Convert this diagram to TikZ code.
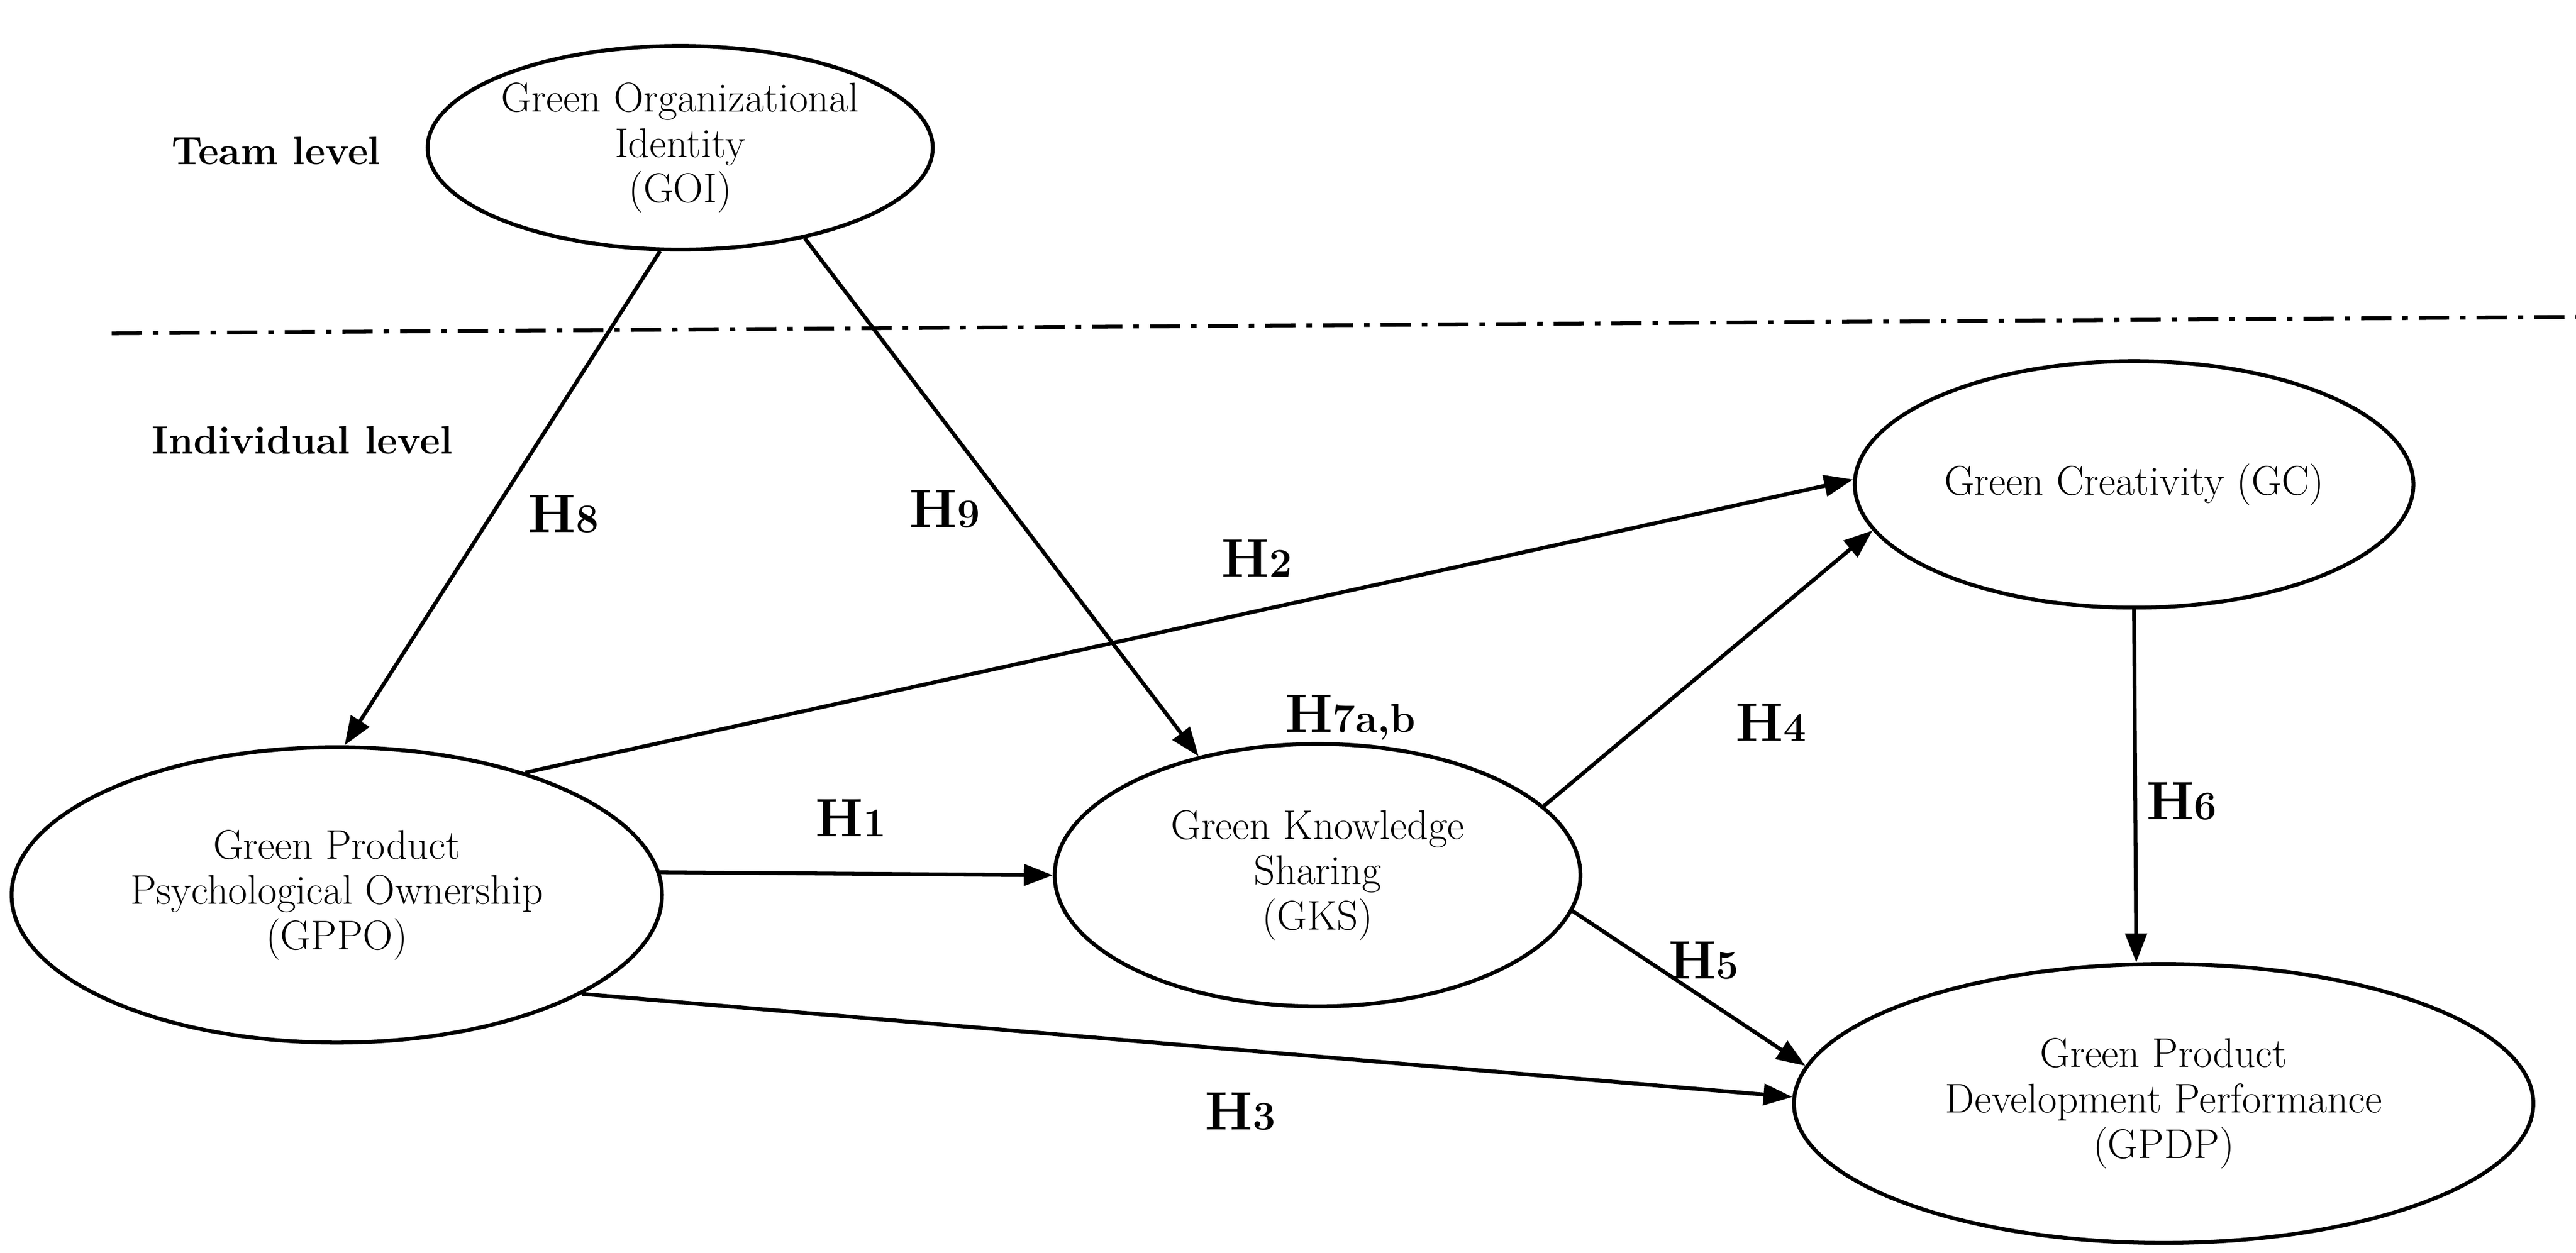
\documentclass[tikz,border=0pt]{standalone}
\usetikzlibrary{shapes.geometric,arrows.meta}
\begin{document}
\begin{tikzpicture}[x=0.0299cm,y=-0.0299cm,
 el/.style={ellipse,draw,line width=2pt,inner sep=0pt,align=center,font=\fontsize{21.5}{23.5}\selectfont},
 ar/.style={line width=2pt,-{Triangle[length=15pt,width=11pt]}},
 hl/.style={font=\bfseries\fontsize{28}{30}\selectfont},
 lv/.style={font=\bfseries\fontsize{20.5}{22}\selectfont}]
\useasboundingbox (0,0) rectangle (1568,763);
\newcommand{\hyp}[1]{H{\fontsize{21}{24}\selectfont #1}}
\node[el,minimum width=8.07cm,minimum height=3.71cm] (goi) at (414,90) {Green Organizational\\Identity\\(GOI)};
\node[el,minimum width=10.17cm,minimum height=4.49cm] (gc) at (1299,295) {Green Creativity (GC)};
\node[el,minimum width=11.84cm,minimum height=5.38cm] (gppo) at (205,545) {Green Product\\Psychological Ownership\\(GPPO)};
\node[el,minimum width=9.57cm,minimum height=4.78cm] (gks) at (802,533) {Green Knowledge\\Sharing\\(GKS)};
\node[el,minimum width=13.46cm,minimum height=5.08cm] (gpdp) at (1317,672) {Green Product\\Development Performance\\(GPDP)};
\node[lv] (team) at (168,92) {Team level};
\node[lv] (ind) at (184,268) {Individual level};
\coordinate (dl) at (68,203); \coordinate (dr) at (1568,193);
\draw[line width=2pt,dash pattern=on 0.55cm off 0.2cm on 0.1cm off 0.2cm] (dl) -- (dr);
\draw[ar] (goi.259) -- (gppo.87);
\draw[ar] (goi.324) -- (gks.135);
\draw[ar] (gppo.33.7) -- (gc.179);
\draw[ar] (gppo.4) -- (gks.180);
\draw[ar] (gppo.338) -- (gpdp.179);
\draw[ar] (gks.17.3) -- (gc.190.9);
\draw[ar] (gks.352) -- (gpdp.174);
\draw[ar] (gc.270) -- (gpdp.101);
\node[hl] (h8) at (343,313) {\hyp{8}};
\node[hl] (h9) at (575,310) {\hyp{9}};
\node[hl] (h2) at (765,340) {\hyp{2}};
\node[hl] (h1) at (518,498) {\hyp{1}};
\node[hl] (h3) at (755,677) {\hyp{3}};
\node[hl] (h4) at (1078,440) {\hyp{4}};
\node[hl] (h5) at (1037,585) {\hyp{5}};
\node[hl] (h6) at (1328,488) {\hyp{6}};
\node[hl] (h7) at (822,437) {\hyp{7a,b}};
\end{tikzpicture}
\end{document}
